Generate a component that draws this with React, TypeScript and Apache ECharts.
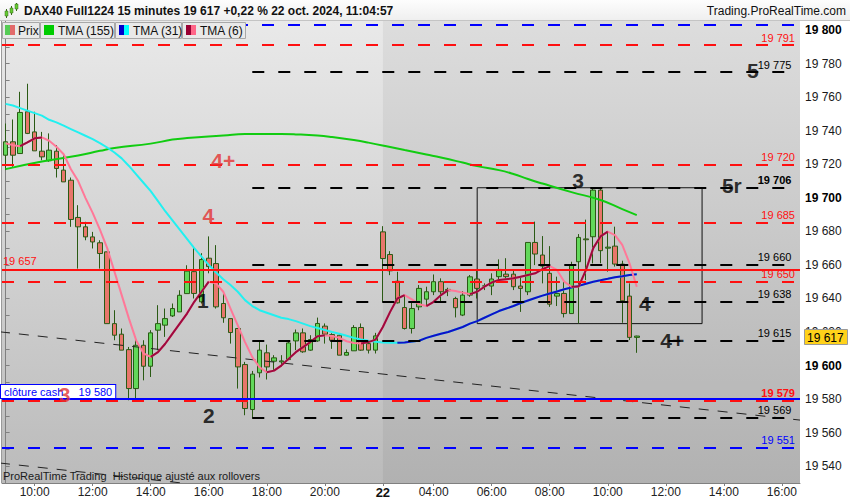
import React, { useEffect, useRef } from 'react';
import * as echarts from 'echarts';

const FONT = '"Liberation Sans", Arial, Helvetica, sans-serif';

// 15-minute candles: [open, close, low, high]
const ohlc: number[][] = [
  [19725.4, 19733.4, 19716.5, 19744.3],
  [19733.4, 19725.4, 19718.5, 19746.7],
  [19726.4, 19750.9, 19726.4, 19763.2],
  [19751.3, 19738.4, 19738.0, 19768.0],
  [19739.3, 19728.0, 19728.0, 19751.3],
  [19727.8, 19724.4, 19722.4, 19739.3],
  [19722.1, 19728.4, 19721.5, 19738.4],
  [19727.8, 19717.5, 19712.1, 19731.4],
  [19716.5, 19709.5, 19709.5, 19725.4],
  [19710.5, 19687.1, 19682.7, 19712.1],
  [19688.3, 19682.7, 19657.8, 19695.6],
  [19682.7, 19676.7, 19674.7, 19685.7],
  [19676.7, 19673.7, 19669.8, 19679.7],
  [19673.2, 19666.8, 19657.8, 19674.7],
  [19667.8, 19625.0, 19625.0, 19667.8],
  [19625.0, 19618.1, 19615.1, 19633.0],
  [19618.7, 19609.2, 19609.2, 19622.1],
  [19609.5, 19586.3, 19579.3, 19611.1],
  [19586.3, 19612.1, 19580.3, 19616.1],
  [19612.1, 19599.6, 19591.2, 19615.1],
  [19599.6, 19619.5, 19593.2, 19621.1],
  [19621.1, 19625.0, 19609.1, 19636.0],
  [19624.1, 19628.0, 19617.1, 19634.0],
  [19629.6, 19634.0, 19629.0, 19637.0],
  [19632.0, 19641.9, 19632.0, 19644.9],
  [19642.9, 19656.3, 19642.9, 19659.8],
  [19656.0, 19643.0, 19640.0, 19671.0],
  [19638.0, 19663.2, 19637.0, 19667.0],
  [19664.0, 19659.0, 19655.0, 19677.0],
  [19660.8, 19635.0, 19634.0, 19671.8],
  [19637.0, 19628.5, 19625.5, 19643.0],
  [19628.0, 19619.7, 19613.1, 19628.0],
  [19622.1, 19599.2, 19586.3, 19622.1],
  [19600.6, 19574.4, 19570.4, 19602.2],
  [19573.8, 19594.9, 19568.4, 19596.8],
  [19595.7, 19609.2, 19592.9, 19614.1],
  [19607.6, 19599.2, 19591.7, 19612.5],
  [19602.6, 19604.6, 19597.2, 19606.2],
  [19602.2, 19602.8, 19599.2, 19606.2],
  [19603.6, 19613.5, 19603.2, 19615.1],
  [19614.7, 19619.5, 19609.2, 19621.5],
  [19619.5, 19608.2, 19607.6, 19622.1],
  [19609.2, 19615.5, 19608.8, 19618.1],
  [19614.7, 19625.1, 19614.1, 19628.6],
  [19623.5, 19618.7, 19613.1, 19625.1],
  [19618.5, 19615.1, 19610.0, 19619.3],
  [19618.1, 19606.2, 19606.2, 19619.1],
  [19606.2, 19607.8, 19606.0, 19609.6],
  [19608.8, 19622.7, 19608.8, 19624.1],
  [19622.7, 19609.2, 19608.8, 19625.1],
  [19613.1, 19609.2, 19607.2, 19615.1],
  [19609.2, 19617.7, 19607.2, 19619.5],
  [19679.7, 19663.8, 19638.0, 19683.1],
  [19666.2, 19656.5, 19653.9, 19668.2],
  [19650.3, 19637.4, 19637.0, 19655.9],
  [19634.6, 19622.1, 19621.5, 19642.0],
  [19622.1, 19634.0, 19619.1, 19637.4],
  [19635.0, 19646.0, 19633.0, 19648.0],
  [19639.6, 19644.0, 19636.0, 19647.0],
  [19644.0, 19650.0, 19642.0, 19654.3],
  [19650.0, 19644.0, 19638.0, 19652.0],
  [19645.4, 19644.6, 19641.4, 19646.4],
  [19640.0, 19634.5, 19628.7, 19641.0],
  [19630.1, 19642.0, 19629.5, 19644.4],
  [19642.0, 19652.9, 19641.0, 19654.0],
  [19651.6, 19646.0, 19640.0, 19657.0],
  [19647.5, 19647.4, 19645.0, 19649.0],
  [19647.4, 19651.6, 19642.0, 19655.0],
  [19653.0, 19657.3, 19651.0, 19663.3],
  [19654.5, 19653.0, 19651.0, 19664.0],
  [19654.5, 19647.0, 19645.0, 19657.0],
  [19647.4, 19646.0, 19632.0, 19653.3],
  [19644.0, 19673.4, 19642.0, 19673.4],
  [19673.4, 19666.5, 19659.9, 19685.8],
  [19665.9, 19659.3, 19649.0, 19677.2],
  [19655.0, 19636.6, 19635.0, 19671.2],
  [19641.4, 19643.0, 19635.5, 19653.0],
  [19643.0, 19631.0, 19628.7, 19650.0],
  [19631.0, 19659.9, 19631.0, 19661.9],
  [19661.9, 19676.4, 19625.1, 19678.4],
  [19675.5, 19675.0, 19651.0, 19687.0],
  [19676.8, 19704.6, 19660.9, 19705.6],
  [19704.6, 19668.5, 19661.0, 19705.6],
  [19670.0, 19670.6, 19656.0, 19679.8],
  [19671.2, 19660.5, 19659.0, 19682.8],
  [19660.5, 19638.6, 19625.5, 19662.5],
  [19641.4, 19616.8, 19615.2, 19649.0],
  [19616.8, 19617.6, 19607.6, 19617.8],
];

const tma6 = [
  19732.5, 19731.4, 19730.8, 19733, 19735.5, 19736, 19734, 19730.4, 19726, 19717,
  19710, 19700, 19691, 19681, 19670, 19656, 19642, 19628, 19615, 19607.3,
  19605.2, 19608, 19613, 19619, 19625, 19631, 19638, 19644, 19650, 19649,
  19644, 19634, 19624, 19614, 19605, 19599, 19596, 19597, 19600, 19604,
  19608, 19611, 19614, 19617.5, 19618, 19617.6, 19616.5, 19614.5, 19613.5, 19613.2,
  19614, 19615.5, 19623, 19632, 19640, 19642, 19639.5, 19636.5, 19635.5, 19638,
  19642, 19645, 19644.5, 19643.5, 19642.6, 19644, 19647, 19649.5, 19651, 19651.5,
  19652, 19653, 19654, 19655, 19657.5, 19659.3, 19657, 19650, 19647, 19647.2,
  19657, 19670, 19677, 19679.8, 19677.8, 19672, 19661, 19647,
];

const tma31 = [
  19756, 19755, 19753.5, 19752, 19750.5, 19749, 19746.5, 19745, 19743, 19741,
  19739, 19737, 19735, 19732.6, 19730, 19727, 19723.5, 19719, 19714, 19709,
  19704, 19698, 19692, 19686.5, 19681, 19675.5, 19670, 19665, 19660, 19655.5,
  19651.5, 19648, 19644, 19639, 19635.5, 19633, 19631.5, 19630, 19628.5, 19627.7,
  19626.5, 19625, 19623.5, 19622.4, 19621.2, 19620, 19619, 19617.8, 19616.5, 19615.5,
  19614.8, 19614.2, 19613.8, 19613.6, 19613.6, 19613.8, 19614.3, 19614.8, 19616.5, 19617.8,
  19619, 19620, 19621.5, 19623, 19625, 19626.5, 19628.5, 19630.5, 19632.5, 19634,
  19635.5, 19637.3, 19638.8, 19640.3, 19641.7, 19643, 19644.2, 19645.5, 19646.5, 19647.5,
  19648.8, 19650, 19650.8, 19651.7, 19652.7, 19653.3, 19654, 19654.4,
];

// [bar index, value]
const tma155 = [
  [0, 19717.1], [5, 19721.6], [10, 19725.2], [13, 19728.0], [15, 19729.7], [20, 19732.3],
  [23, 19734.7], [25, 19735.6], [30, 19737.1], [33, 19738.0], [38, 19738.0], [40, 19737.8],
  [43, 19737.1], [45, 19736.2], [48, 19734.4], [50, 19732.9], [53, 19730.3], [55, 19728.5],
  [58, 19725.8], [60, 19724.0], [63, 19721.0], [65, 19718.9], [68, 19716.5], [70, 19714.2],
  [72, 19711.2], [74, 19708.5], [78, 19703.4], [82, 19698.7], [85, 19693.3], [87, 19689.7],
];

const redDashedLevels = [19791, 19720, 19685, 19650, 19579];
const blackDashedLevels = [19775, 19706, 19660, 19638, 19615, 19569];
const blueDashedLevels = [19803, 19551];
const redSolidLevel = 19657;
const cashCloseLevel = 19580;
const lastPrice = 19617;
const boxCorners = [[65, 19706], [96, 19625]];
const trendA = [[-0.78, 19620.1], [109.5, 19567.5]];
const trendB = [[-0.78, 19541.9], [24.5, 19529.9]];

// [bar index, price, text, tone]
const annotations: [number, number, string, string][] = [
  [103.0, 19775.7, '5', 'k'],
  [100.1, 19707.6, '5r', 'k'],
  [30.0, 19722.1, '4+', 'r'],
  [27.95, 19689.3, '4', 'r'],
  [27.2, 19638.5, '1', 'k'],
  [28.0, 19570.5, '2', 'k'],
  [8.14, 19583.0, '3', 'r'],
  [78.9, 19710.3, '3', 'k'],
  [88.1, 19637.3, '4', 'k'],
  [91.9, 19615.2, '4+', 'k'],
];

const xTickIndex = [4, 12, 20, 28, 36, 44, 52, 59, 67, 75, 83, 91, 99, 107];
const xTickText = ['10:00', '12:00', '14:00', '16:00', '18:00', '20:00', '22', '04:00', '06:00', '08:00', '10:00', '12:00', '14:00', '16:00'];
const yTickValues = [19540, 19560, 19580, 19600, 19620, 19640, 19660, 19680, 19700, 19720, 19740, 19760, 19780, 19800];
const yMinorValues = [19540, 19550, 19560, 19570, 19580, 19590, 19600, 19610, 19620, 19630, 19640, 19650, 19660, 19670, 19680, 19690, 19700, 19710, 19720, 19730, 19740, 19750, 19760, 19770, 19780, 19790, 19800];

const BAR_COUNT = 110;
const DAY2_START = 52;
const categories = Array.from({ length: BAR_COUNT }, (_, i) => {
  const m = i < DAY2_START ? 9 * 60 + 15 * i : 2 * 60 + 15 + 15 * (i - DAY2_START);
  const h = Math.floor(m / 60) % 24;
  const mm = m % 60;
  return `${String(h).padStart(2, '0')}:${String(mm).padStart(2, '0')}`;
});

const fmt = (v: number) => {
  const s = Math.round(v).toString();
  return s.slice(0, s.length - 3) + ' ' + s.slice(-3);
};

const risingOnly = (vals: number[]) =>
  vals.map((v, i) => {
    const up1 = i > 0 && v > vals[i - 1];
    const up2 = i < vals.length - 1 && vals[i + 1] > v;
    return up1 || up2 ? v : null;
  });

const DASH = [12, 14];
const RED = '#ff1010';
const BLUE = '#0000ff';

function buildOption() {
  const boldSet = new Set([19706, 19579]);
  const lvlLabel = (v: number, color: string) => ({
    show: true,
    position: 'insideEndTop',
    formatter: fmt(v),
    color,
    fontSize: 11,
    fontFamily: FONT,
    fontWeight: boldSet.has(v) ? 'bold' : 'normal',
    distance: [5, 2],
  });

  const markLineData: any[] = [];
  blueDashedLevels.forEach((v, k) => {
    markLineData.push({
      yAxis: v,
      lineStyle: { color: BLUE, width: 2, type: DASH },
      label: k === 0 ? { show: false } : lvlLabel(v, BLUE),
    });
  });
  redDashedLevels.forEach((v) => {
    markLineData.push({
      yAxis: v,
      lineStyle: { color: RED, width: 2, type: DASH },
      label: lvlLabel(v, RED),
    });
  });
  blackDashedLevels.forEach((v) => {
    markLineData.push([
      { coord: [34, v], lineStyle: { color: '#000', width: 2, type: DASH }, label: lvlLabel(v, '#000') },
      { coord: [109, v] },
    ]);
  });
  markLineData.push({
    yAxis: redSolidLevel,
    lineStyle: { color: RED, width: 2, type: 'solid' },
    label: {
      show: true, position: 'insideStartTop', formatter: fmt(redSolidLevel),
      color: RED, fontSize: 11, fontFamily: FONT, distance: [1, 3],
    },
  });
  markLineData.push({
    yAxis: cashCloseLevel,
    lineStyle: { color: BLUE, width: 2, type: 'solid' },
    label: {
      show: true, position: 'insideStartTop', formatter: 'clôture cash     ' + fmt(cashCloseLevel),
      color: BLUE, fontSize: 11, fontFamily: FONT, distance: [-1, 1],
      backgroundColor: '#ffffff', borderColor: BLUE, borderWidth: 1, padding: [1, 3, 1, 3],
    },
  });

  const isTick = (i: number) => xTickIndex.indexOf(i) >= 0;

  return {
    animation: false,
    grid: { left: 2, right: 50, top: 20, bottom: 17, containLabel: false, outerBoundsMode: 'none' },
    xAxis: [
      {
        type: 'category',
        data: categories,
        boundaryGap: true,
        axisLine: { show: true, lineStyle: { color: '#808080', width: 1 } },
        axisTick: { show: true, interval: (i: number) => isTick(i), alignWithLabel: true, length: 3, lineStyle: { color: '#808080' } },
        axisLabel: {
          interval: (i: number) => isTick(i),
          formatter: (_v: string, i: number) => {
            const k = xTickIndex.indexOf(i);
            const t = k >= 0 ? xTickText[k] : '';
            return i === DAY2_START ? `{b|${t}}` : t;
          },
          margin: 3,
          color: '#222',
          fontSize: 12,
          fontFamily: FONT,
          rich: { b: { fontWeight: 'bold', fontSize: 13, color: '#111', fontFamily: FONT } },
        },
        splitLine: { show: false },
      },
      { type: 'value', min: -0.5, max: BAR_COUNT - 0.5, show: false },
    ],
    yAxis: {
      type: 'value',
      position: 'right',
      min: 19530,
      max: 19806,
      splitLine: { show: false },
      axisLine: { show: true, lineStyle: { color: '#808080' } },
      axisTick: { show: true, customValues: yMinorValues, length: 4, lineStyle: { color: '#808080' } },
      axisLabel: {
        customValues: yTickValues,
        formatter: (v: number) => (v % 100 === 0 ? `{b|${fmt(v)}}` : fmt(v)),
        margin: 5,
        color: '#1a1a1a',
        fontSize: 12,
        fontFamily: FONT,
        rich: { b: { fontWeight: 'bold', fontSize: 12, color: '#000', fontFamily: FONT } },
      },
    },
    series: [
      {
        name: 'Prix',
        type: 'candlestick',
        data: ohlc,
        barWidth: 5,
        z: 2,
        itemStyle: {
          color: '#62d85a',
          color0: '#e8766b',
          borderColor: '#2a5a14',
          borderColor0: '#2a5a14',
          borderWidth: 1,
        },
        markLine: {
          silent: true,
          symbol: ['none', 'none'],
          animation: false,
          data: markLineData,
        },
        markArea: {
          silent: true,
          itemStyle: { color: 'rgba(0,0,0,0)', borderColor: '#111', borderWidth: 1 },
          data: [[{ coord: boxCorners[0] }, { coord: boxCorners[1] }]],
        },
      },
      {
        name: 'trendA', type: 'line', xAxisIndex: 1, data: trendA, symbol: 'none', z: 3,
        lineStyle: { color: '#222', width: 1, type: [10, 9] },
      },
      {
        name: 'trendB', type: 'line', xAxisIndex: 1, data: trendB, symbol: 'none', z: 3,
        lineStyle: { color: '#222', width: 1, type: [10, 9] },
      },
      {
        name: 'TMA (155)', type: 'line', data: tma155, smooth: true, symbol: 'none', z: 4,
        lineStyle: { color: '#11cc11', width: 2 },
      },
      {
        name: 'TMA (31)', type: 'line', data: tma31, symbol: 'none', z: 4,
        lineStyle: { color: '#22f0f0', width: 2 },
      },
      {
        name: 'TMA (31) up', type: 'line', data: risingOnly(tma31), symbol: 'none', z: 4, connectNulls: false,
        lineStyle: { color: '#1010c8', width: 2 },
      },
      {
        name: 'TMA (6)', type: 'line', data: tma6, symbol: 'none', z: 4,
        lineStyle: { color: '#ff7898', width: 2 },
      },
      {
        name: 'TMA (6) up', type: 'line', data: risingOnly(tma6), symbol: 'none', z: 4, connectNulls: false,
        lineStyle: { color: '#9e0a3e', width: 2 },
      },
      {
        name: 'labels', type: 'scatter', xAxisIndex: 1, z: 6, symbolSize: 1, silent: true,
        itemStyle: { color: 'rgba(0,0,0,0)' },
        data: annotations.map(([i, p, t, tone]) => ({
          value: [i, p],
          label: {
            show: true, position: 'inside', formatter: t,
            color: tone === 'r' ? '#e43232' : '#000',
            fontSize: 21, fontWeight: 'bold', fontFamily: FONT,
          },
        })),
      },
    ],
  };
}

function buildGraphics(xDay2: number, yLast: number) {
  const txt = (x: number, y: number, text: string, extra: any = {}) => ({
    type: 'text', x, y, z: 21, silent: true,
    style: { text, fontSize: 12, fontFamily: FONT, fill: '#111', verticalAlign: 'middle', ...extra },
  });
  const sq = (x: number, c1: string, c2: string) => [
    { type: 'rect', z: 21, silent: true, shape: { x, y: 25, width: 5, height: 10 }, style: { fill: c1 } },
    { type: 'rect', z: 21, silent: true, shape: { x: x + 5, y: 25, width: 5, height: 10 }, style: { fill: c2 } },
  ];
  const box = (x: number, w: number) => ({
    type: 'rect', z: 20, silent: true, shape: { x: x + 0.5, y: 22.5, width: w, height: 16 },
    style: { fill: '#e9e9e9', stroke: '#a8a8a8', lineWidth: 1 },
  });
  return [
    {
      type: 'rect', z: -10, silent: true, shape: { x: 2, y: 20, width: 798, height: 463 },
      style: {
        fill: new echarts.graphic.LinearGradient(0, 0, 0, 1, [
          { offset: 0, color: '#e9e9e9' },
          { offset: 1, color: '#bbbbbb' },
        ]),
      },
    },
    {
      type: 'rect', z: -9, silent: true, shape: { x: xDay2, y: 20, width: 800 - xDay2, height: 463 },
      style: { fill: 'rgba(0,0,0,0.05)' },
    },
    { type: 'line', z: -8, silent: true, shape: { x1: 1.5, y1: 20, x2: 1.5, y2: 483 }, style: { stroke: '#9a9a9a', lineWidth: 1 } },
    {
      type: 'rect', z: 20, silent: true, shape: { x: 0, y: 0, width: 850, height: 20 },
      style: {
        fill: new echarts.graphic.LinearGradient(0, 0, 0, 1, [
          { offset: 0, color: '#fdfdfd' },
          { offset: 1, color: '#efefef' },
        ]),
      },
    },
    { type: 'line', z: 20, silent: true, shape: { x1: 0, y1: 20.5, x2: 850, y2: 20.5 }, style: { stroke: '#c4c4c4', lineWidth: 1 } },
    // small candle icon
    { type: 'line', z: 21, silent: true, shape: { x1: 6.5, y1: 9, x2: 6.5, y2: 18 }, style: { stroke: '#3a6a1a', lineWidth: 1 } },
    { type: 'rect', z: 21, silent: true, shape: { x: 5, y: 11, width: 3, height: 5 }, style: { fill: '#66cc33', stroke: '#3a6a1a', lineWidth: 0.5 } },
    { type: 'line', z: 21, silent: true, shape: { x1: 11.5, y1: 6, x2: 11.5, y2: 15 }, style: { stroke: '#3a6a1a', lineWidth: 1 } },
    { type: 'rect', z: 21, silent: true, shape: { x: 10, y: 8, width: 3, height: 5 }, style: { fill: '#66cc33', stroke: '#3a6a1a', lineWidth: 0.5 } },
    { type: 'line', z: 21, silent: true, shape: { x1: 16.5, y1: 3, x2: 16.5, y2: 11 }, style: { stroke: '#3a6a1a', lineWidth: 1 } },
    { type: 'rect', z: 21, silent: true, shape: { x: 15, y: 4, width: 3, height: 5 }, style: { fill: '#66cc33', stroke: '#3a6a1a', lineWidth: 0.5 } },
    txt(24, 11, 'DAX40 Full1224 15 minutes 19 617 +0,22 % 22 oct. 2024, 11:04:57', { fontWeight: 'bold' }),
    txt(846, 11, 'Trading.ProRealTime.com', { align: 'right' }),
    box(2, 37),
    box(40, 74),
    box(115, 66),
    box(182, 63),
    ...sq(5, '#55cc55', '#e26a6a'),
    txt(18, 31, 'Prix'),
    { type: 'rect', z: 21, silent: true, shape: { x: 44, y: 25, width: 10, height: 10 }, style: { fill: '#00cc00' } },
    txt(58, 31, 'TMA (155)'),
    ...sq(119, '#0000cc', '#00ffff'),
    txt(133, 31, 'TMA (31)'),
    ...sq(186, '#990033', '#ff6688'),
    txt(200, 31, 'TMA (6)'),
    txt(3, 476, 'ProRealTime Trading  Historique ajusté aux rollovers', { fontSize: 11, fill: '#1a1a1a' }),
    // last price tag on the right axis
    {
      type: 'rect', z: 30, silent: true, shape: { x: 804.5, y: Math.round(yLast) - 7.5, width: 43, height: 15 },
      style: { fill: '#ffd21a', stroke: '#9a9a9a', lineWidth: 1 },
    },
    {
      type: 'text', z: 31, silent: true, x: 807, y: Math.round(yLast) + 0.5,
      style: { text: fmt(lastPrice), fontSize: 12, fontFamily: FONT, fill: '#000', verticalAlign: 'middle' },
    },
  ];
}

export default function App() {
  const ref = useRef<HTMLDivElement>(null);
  useEffect(() => {
    document.body.style.margin = '0';
    if (!ref.current) return;
    const chart = echarts.init(ref.current, undefined, { renderer: 'svg' });
    chart.setOption(buildOption() as any);
    const xd = chart.convertToPixel({ xAxisIndex: 0 }, DAY2_START) as unknown as number;
    const yl = chart.convertToPixel({ yAxisIndex: 0 }, lastPrice) as unknown as number;
    chart.setOption({
      graphic: {
        elements: buildGraphics(
          typeof xd === 'number' && isFinite(xd) ? xd : 383,
          typeof yl === 'number' && isFinite(yl) ? yl : 340,
        ),
      },
    } as any);
    return () => chart.dispose();
  }, []);
  return (
    <div
      ref={ref}
      style={{ position: 'fixed', left: 0, top: 0, width: 850, height: 500, background: '#ffffff' }}
    />
  );
}
